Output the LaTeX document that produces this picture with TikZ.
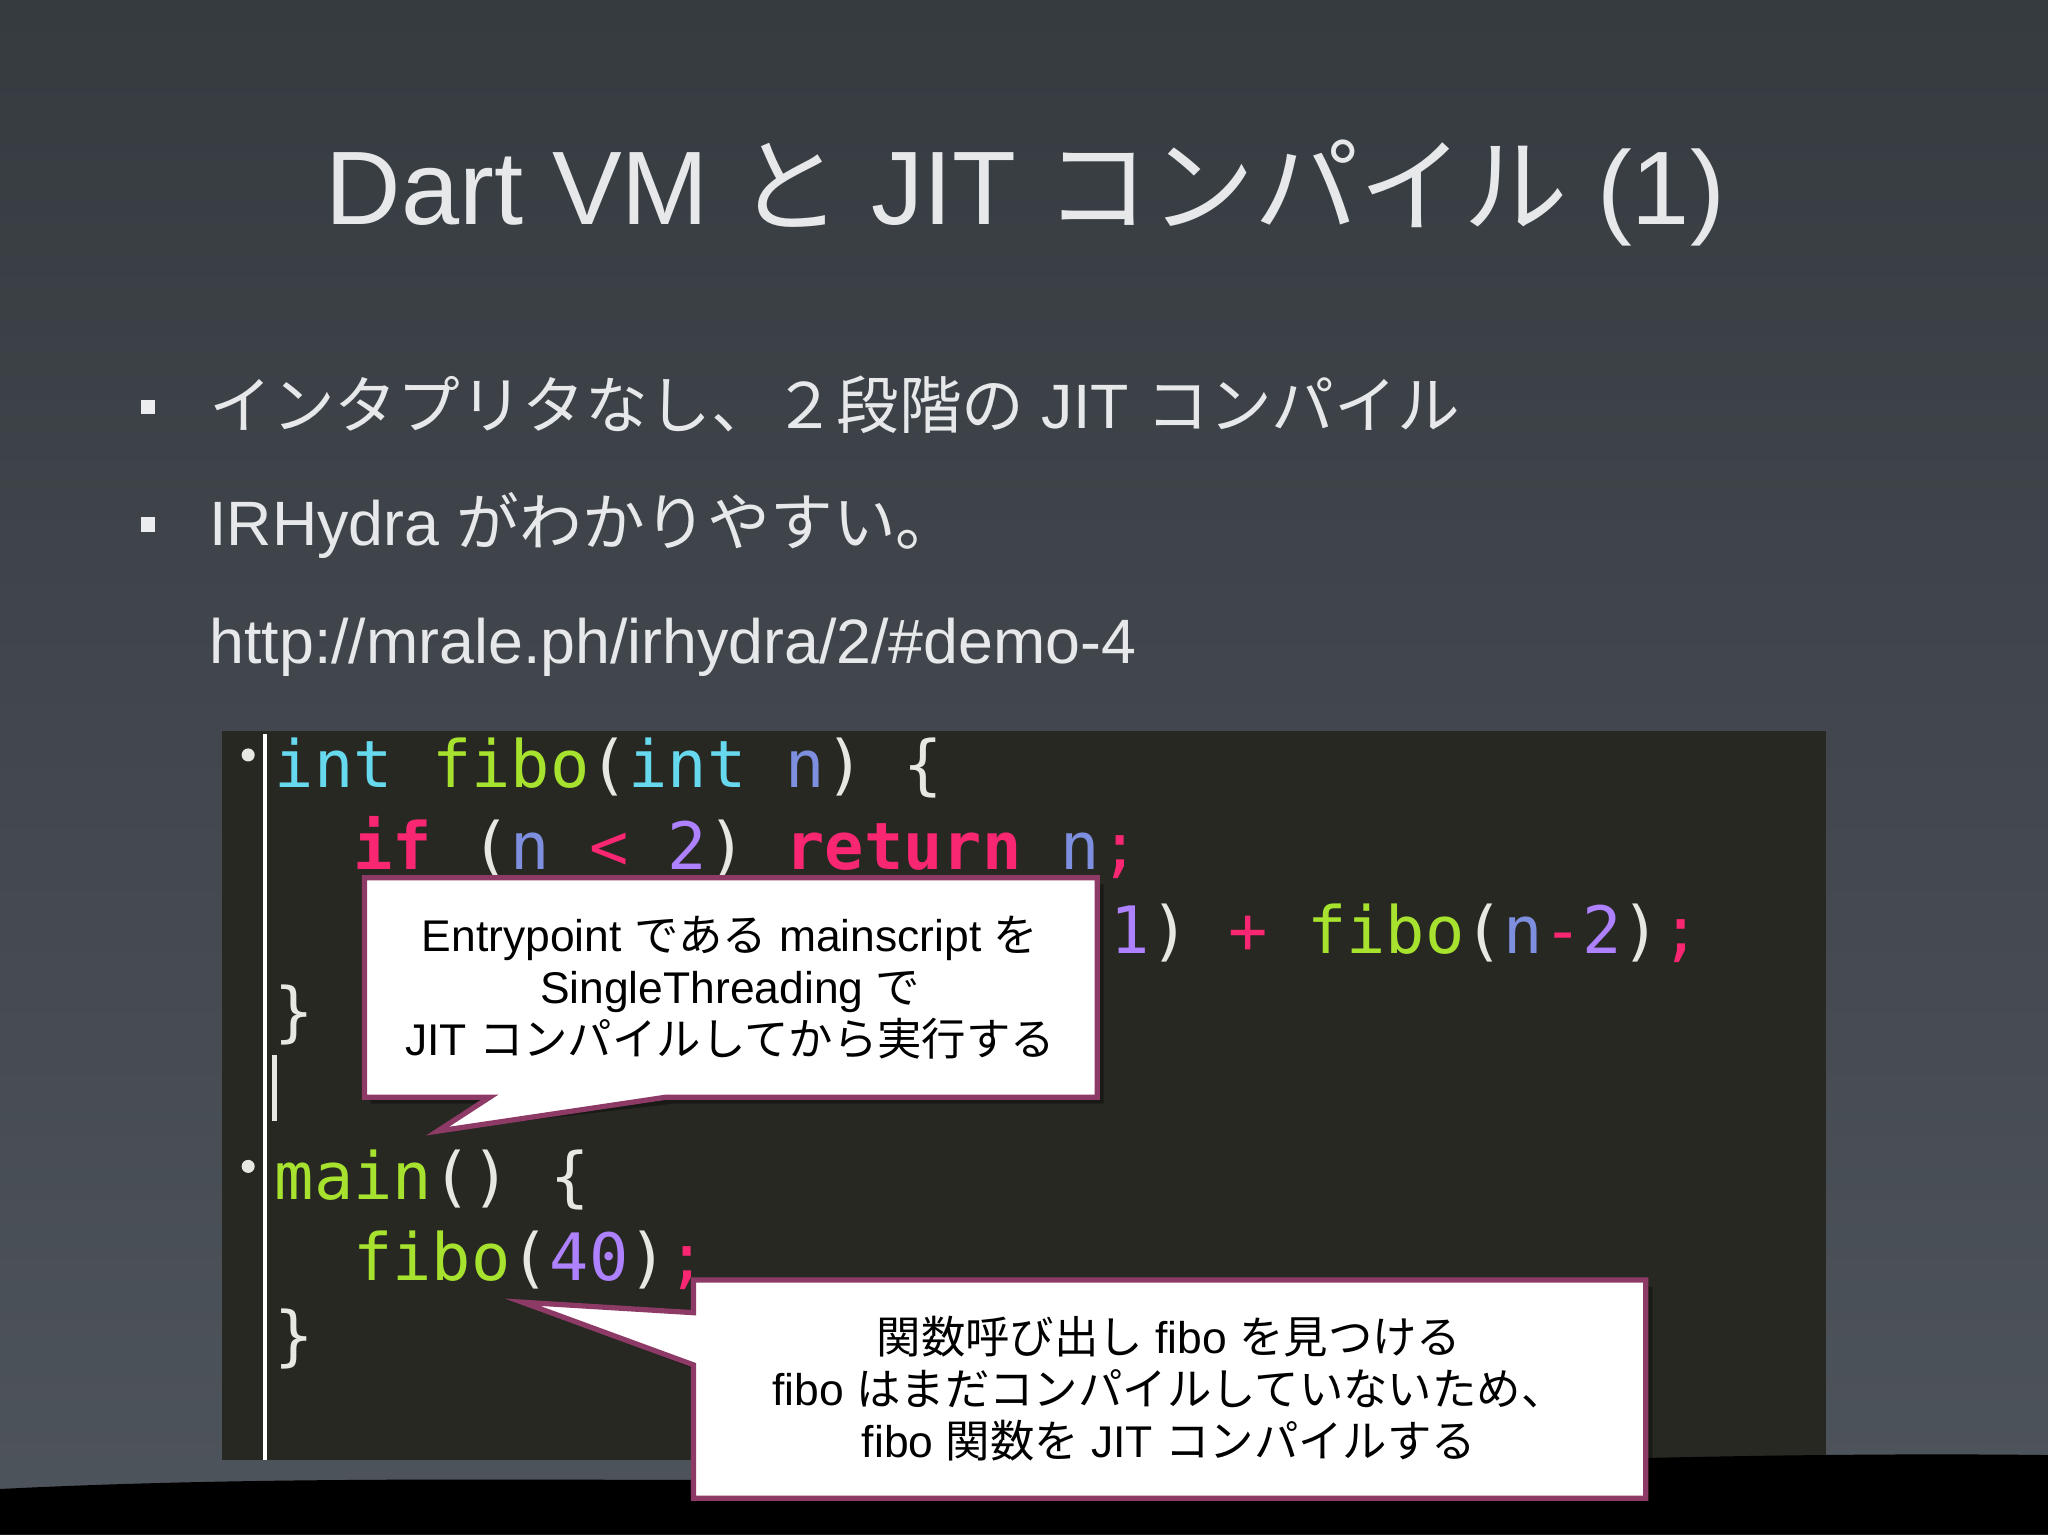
\documentclass[tikz,border=0pt]{standalone}
\usepackage{fontspec}
\setmainfont{Liberation Sans}
\newfontfamily\jp{Noto Sans CJK JP}
\newfontfamily\mono{DejaVu Sans Mono}
\definecolor{txt}{HTML}{E6E8EA}
\definecolor{bgtop}{HTML}{363B40}
\definecolor{bgbot}{HTML}{4E545B}
\definecolor{codebg}{HTML}{272822}
\definecolor{kcy}{HTML}{66D9EF}
\definecolor{kgr}{HTML}{A6E22E}
\definecolor{kpk}{HTML}{F92672}
\definecolor{kpu}{HTML}{AE81FF}
\definecolor{kvar}{HTML}{7F8FE0}
\definecolor{kwh}{HTML}{E8E8E2}
\definecolor{callb}{HTML}{8E3A66}
\tikzset{
 code/.style={anchor=base west,inner sep=0pt,font=\mono\fontsize{25pt}{25pt}\selectfont},
 calltxt/.style={align=center,text=black,font=\fontsize{17pt}{20pt}\selectfont,inner sep=0pt},
 callshape/.style={fill=white,draw=callb,line width=2pt},
 shadowsh/.style={fill=black,opacity=0.35}
}
\begin{document}
\begin{tikzpicture}[x=0.5pt,y=-0.5pt]
\useasboundingbox (0,0) rectangle (1568,1175);
\shade[top color=bgtop,bottom color=bgbot] (0,0) rectangle (1568,1175);
% title
\node[text=txt,font=\fontsize{40pt}{44pt}\selectfont,anchor=base] (title) at (785,172) {Dart VM {\jp と} JIT {\jp コンパイル} (1)};
% bullets
\fill[txt!80] (108,306) rectangle (119,317);
\fill[txt!80] (108,396) rectangle (119,407);
\node[text=txt,font=\fontsize{24pt}{28pt}\selectfont,anchor=base west,inner sep=0pt] (b1) at (160,328) {{\jp インタプリタなし、２段階の} JIT {\jp コンパイル}};
\node[text=txt,font=\fontsize{24pt}{28pt}\selectfont,anchor=base west,inner sep=0pt] (b2) at (160,418) {IRHydra {\jp がわかりやすい。}};
\node[text=txt,font=\fontsize{24pt}{28pt}\selectfont,anchor=base west,inner sep=0pt] (b3) at (160,508) {http://mrale.ph/irhydra/2/\#demo-4};
% code panel
\fill[codebg] (170,560) rectangle (1398,1118);
\draw[white,line width=1.5pt] (203,562) -- (203,1118);
\fill[kwh] (190,578) circle (5);
\fill[kwh] (190,893) circle (5);
\node[code] (l1) at (210,603) {\textcolor{kcy}{int} \textcolor{kgr}{fibo}\textcolor{kwh}{(}\textcolor{kcy}{int} \textcolor{kvar}{n}\textcolor{kwh}{) \{}};
\node[code] (l2) at (270,666) {\textcolor{kpk}{\bfseries if} \textcolor{kwh}{(}\textcolor{kvar}{n} \textcolor{kpk}{<} \textcolor{kpu}{2}\textcolor{kwh}{)} \textcolor{kpk}{\bfseries return} \textcolor{kvar}{n}\textcolor{kpk}{;}};
\node[code] (l3a) at (270,730) {\textcolor{kpk}{(}};
\node[code] (l3) at (850,730) {\textcolor{kpu}{1}\textcolor{kwh}{)} \textcolor{kpk}{+} \textcolor{kgr}{fibo}\textcolor{kwh}{(}\textcolor{kvar}{n}\textcolor{kpk}{-}\textcolor{kpu}{2}\textcolor{kwh}{)}\textcolor{kpk}{;}};
\node[code] (l4) at (210,792) {\textcolor{kwh}{\}}};
\draw[kwh,line width=2pt] (210,808) -- (210,858);
\node[code] (l5) at (210,918) {\textcolor{kgr}{main}\textcolor{kwh}{() \{}};
\node[code] (l6) at (270,980) {\textcolor{kgr}{fibo}\textcolor{kwh}{(}\textcolor{kpu}{40}\textcolor{kwh}{)}\textcolor{kpk}{;}};
\node[code] (l7) at (210,1040) {\textcolor{kwh}{\}}};
% bottom strip
\fill[black] (0,1175) -- (0,1140) .. controls (300,1125) and (600,1140) .. (900,1128) .. controls (1200,1116) and (1400,1112) .. (1568,1114) -- (1568,1175) -- cycle;
% callout 1
\coordinate (p1) at (335,866);
\fill[shadowsh] (284,677) -- (845,677) -- (845,845) -- (515,845) -- (p1) -- (380,845) -- (284,845) -- cycle;
\path[callshape] (279,672) -- (840,672) -- (840,840) -- (510,840) -- (p1) -- (375,840) -- (279,840) -- cycle;
\node[calltxt] (c1) at (559,756) {Entrypoint {\jp である} mainscript {\jp を}\\SingleThreading {\jp で}\\JIT {\jp コンパイルしてから実行する}};
% callout 2
\coordinate (p2) at (400,997);
\fill[shadowsh] (536,985) -- (1265,985) -- (1265,1152) -- (536,1152) -- (536,1050) -- (p2) -- (536,1010) -- cycle;
\path[callshape] (531,980) -- (1260,980) -- (1260,1147) -- (531,1147) -- (531,1045) -- (p2) -- (531,1005) -- cycle;
\node[calltxt] (c2) at (895,1063) {{\jp 関数呼び出し} fibo {\jp を見つける}\\fibo {\jp はまだコンパイルしていないため、}\\fibo {\jp 関数を} JIT {\jp コンパイルする}};
\end{tikzpicture}
\end{document}
